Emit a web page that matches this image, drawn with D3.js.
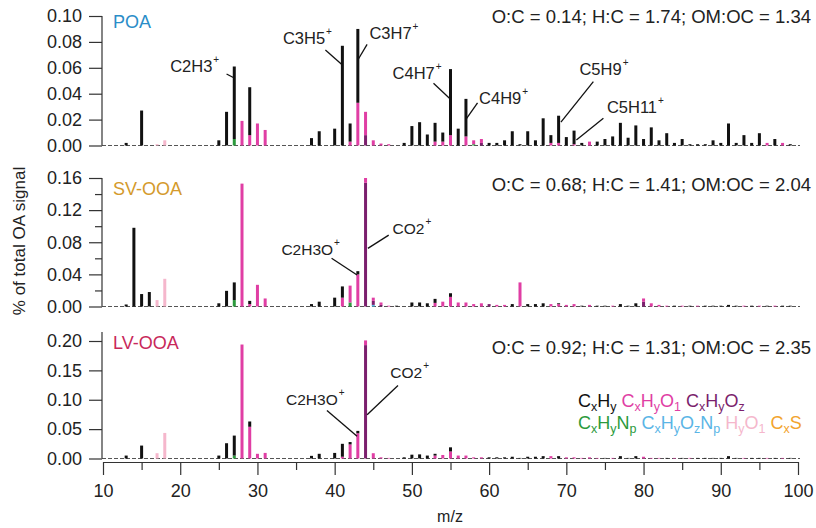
<!DOCTYPE html>
<html>
<head>
<meta charset="utf-8">
<script src="https://cdn.jsdelivr.net/npm/d3@7"></script>
<style>
  body { margin: 0; background: #fff; }
  text { font-family: "Liberation Sans", Arial, sans-serif; fill: #222; }
</style>
</head>
<body>
<div id="chart"></div>
<script>
// ion families, stacking order bottom -> top
const familyKeys = ["Np", "OzNp", "HyO1", "CxS", "Oz", "O1", "CxHy"];
const familyColors = {
  CxHy: "#111111", O1: "#e03ea4", Oz: "#7b1f6d", Np: "#2b9a3c",
  OzNp: "#5ab5e6", HyO1: "#f5b7cc", CxS: "#f2a42d"
};

// factor profiles, % of total OA signal per m/z
const poaSpectrum = [
  {mz: 13, CxHy: .002}, {mz: 15, CxHy: .027}, {mz: 17, HyO1: .001}, {mz: 18, HyO1: .004},
  {mz: 25, CxHy: .004}, {mz: 26, CxHy: .026}, {mz: 27, CxHy: .056, Np: .005},
  {mz: 28, O1: .019}, {mz: 29, CxHy: .037, O1: .008}, {mz: 30, O1: .017}, {mz: 31, O1: .012},
  {mz: 37, CxHy: .0057}, {mz: 38, CxHy: .011}, {mz: 40, CxHy: .013}, {mz: 41, CxHy: .077},
  {mz: 42, CxHy: .014, O1: .003}, {mz: 43, CxHy: .057, O1: .033}, {mz: 44, Oz: .008, O1: .018},
  {mz: 45, O1: .004}, {mz: 46, O1: .0015}, {mz: 47, O1: .001}, {mz: 49, CxHy: .002},
  {mz: 50, CxHy: .015}, {mz: 51, CxHy: .018}, {mz: 52, CxHy: .0085}, {mz: 53, CxHy: .0145, O1: .003},
  {mz: 54, CxHy: .007, O1: .003}, {mz: 55, CxHy: .051, O1: .008}, {mz: 56, CxHy: .013},
  {mz: 57, CxHy: .029, O1: .007}, {mz: 58, O1: .003, Np: .001}, {mz: 59, Oz: .002, O1: .003},
  {mz: 60, CxHy: .002}, {mz: 61, CxHy: .002}, {mz: 62, CxHy: .004}, {mz: 63, CxHy: .011},
  {mz: 64, CxHy: .001}, {mz: 65, CxHy: .011}, {mz: 66, CxHy: .004}, {mz: 67, CxHy: .021},
  {mz: 68, CxHy: .006, O1: .002}, {mz: 69, CxHy: .021, O1: .002}, {mz: 70, CxHy: .0065},
  {mz: 71, CxHy: .0105, O1: .001}, {mz: 72, CxHy: .002}, {mz: 73, O1: .003}, {mz: 74, CxHy: .003},
  {mz: 75, CxHy: .005}, {mz: 76, CxHy: .007}, {mz: 77, CxHy: .0175}, {mz: 78, CxHy: .006},
  {mz: 79, CxHy: .0155}, {mz: 80, CxHy: .005}, {mz: 81, CxHy: .014}, {mz: 82, CxHy: .004},
  {mz: 83, CxHy: .0095}, {mz: 84, CxHy: .002}, {mz: 85, CxHy: .005}, {mz: 86, CxHy: .001},
  {mz: 87, CxHy: .001}, {mz: 88, CxHy: .001}, {mz: 89, CxHy: .004}, {mz: 90, CxHy: .002},
  {mz: 91, CxHy: .017}, {mz: 92, CxHy: .002}, {mz: 93, CxHy: .008}, {mz: 94, CxHy: .002},
  {mz: 95, CxHy: .0095}, {mz: 96, O1: .002}, {mz: 97, CxHy: .005}, {mz: 98, O1: .002},
  {mz: 99, CxHy: .001}
];

const svSpectrum = [
  {mz: 13, CxHy: .0025}, {mz: 14, CxHy: .098}, {mz: 15, CxHy: .0155}, {mz: 16, CxHy: .018},
  {mz: 17, HyO1: .008}, {mz: 18, HyO1: .0345}, {mz: 25, CxHy: .004}, {mz: 26, CxHy: .0195},
  {mz: 27, CxHy: .022, Np: .008}, {mz: 28, O1: .153}, {mz: 29, CxHy: .004, O1: .003},
  {mz: 30, O1: .027}, {mz: 31, O1: .010}, {mz: 37, CxHy: .003}, {mz: 38, CxHy: .006},
  {mz: 40, CxHy: .011}, {mz: 41, CxHy: .014, O1: .011}, {mz: 42, Np: .005, O1: .021},
  {mz: 43, O1: .040, CxHy: .004}, {mz: 44, Oz: .154, O1: .006},
  {mz: 45, OzNp: .002, Oz: .005, O1: .004}, {mz: 46, Oz: .002, O1: .003}, {mz: 47, O1: .001},
  {mz: 48, CxHy: .001}, {mz: 50, CxHy: .005}, {mz: 51, CxHy: .005}, {mz: 52, CxHy: .004},
  {mz: 53, CxHy: .005, O1: .0045}, {mz: 54, O1: .006}, {mz: 55, O1: .012, CxHy: .0045},
  {mz: 56, O1: .005}, {mz: 57, O1: .005}, {mz: 58, O1: .003}, {mz: 59, O1: .004},
  {mz: 60, Oz: .003}, {mz: 61, O1: .002}, {mz: 62, O1: .002}, {mz: 63, CxHy: .003},
  {mz: 64, O1: .030}, {mz: 65, CxHy: .003}, {mz: 66, CxHy: .003}, {mz: 67, CxHy: .004},
  {mz: 68, O1: .003}, {mz: 69, O1: .003, CxHy: .001}, {mz: 70, O1: .002}, {mz: 71, O1: .003},
  {mz: 72, CxHy: .001}, {mz: 73, O1: .002}, {mz: 74, CxHy: .001}, {mz: 75, CxHy: .001},
  {mz: 76, O1: .001}, {mz: 77, CxHy: .003}, {mz: 78, CxHy: .001}, {mz: 79, CxHy: .004},
  {mz: 80, Oz: .006, O1: .004}, {mz: 81, O1: .004}, {mz: 82, O1: .002}, {mz: 83, O1: .001},
  {mz: 84, CxHy: .001}, {mz: 85, O1: .001}, {mz: 86, CxHy: .001}, {mz: 87, O1: .001},
  {mz: 88, CxHy: .001}, {mz: 89, CxHy: .001}, {mz: 90, CxHy: .001}, {mz: 91, CxHy: .002},
  {mz: 92, CxHy: .001}, {mz: 93, O1: .001}, {mz: 94, CxHy: .001}, {mz: 95, O1: .001},
  {mz: 96, CxHy: .001}, {mz: 97, O1: .001}, {mz: 98, CxHy: .001}, {mz: 99, CxHy: .001}
];

const lvSpectrum = [
  {mz: 13, CxHy: .005}, {mz: 15, CxHy: .022}, {mz: 17, HyO1: .009}, {mz: 18, HyO1: .0435},
  {mz: 25, CxHy: .005}, {mz: 26, CxHy: .026}, {mz: 27, CxHy: .034, Np: .005},
  {mz: 28, O1: .194}, {mz: 29, O1: .054, CxHy: .009}, {mz: 30, O1: .008}, {mz: 31, O1: .0095},
  {mz: 37, CxHy: .0045}, {mz: 38, CxHy: .008}, {mz: 40, CxHy: .0095},
  {mz: 41, CxHy: .022, O1: .003}, {mz: 42, O1: .024, CxHy: .004}, {mz: 43, O1: .043, CxHy: .004},
  {mz: 44, Oz: .193, O1: .008}, {mz: 45, O1: .009}, {mz: 46, O1: .002}, {mz: 47, O1: .001},
  {mz: 49, CxHy: .002}, {mz: 50, CxHy: .0065}, {mz: 51, CxHy: .007}, {mz: 52, CxHy: .005},
  {mz: 53, O1: .005, CxHy: .003}, {mz: 54, O1: .006}, {mz: 55, O1: .012, CxHy: .007},
  {mz: 56, O1: .005}, {mz: 57, O1: .005}, {mz: 58, O1: .002}, {mz: 59, O1: .002},
  {mz: 60, CxHy: .002}, {mz: 61, CxHy: .002}, {mz: 62, CxHy: .002}, {mz: 63, CxHy: .003},
  {mz: 64, CxHy: .001}, {mz: 65, CxHy: .003}, {mz: 66, CxHy: .003}, {mz: 67, CxHy: .004},
  {mz: 68, O1: .004}, {mz: 69, CxHy: .004}, {mz: 70, O1: .002}, {mz: 71, O1: .002},
  {mz: 72, O1: .001}, {mz: 73, O1: .002}, {mz: 74, O1: .001}, {mz: 75, CxHy: .001},
  {mz: 76, O1: .001}, {mz: 77, CxHy: .004}, {mz: 78, CxHy: .001}, {mz: 79, CxHy: .004},
  {mz: 80, O1: .003}, {mz: 81, O1: .001}, {mz: 82, O1: .001}, {mz: 83, CxHy: .001},
  {mz: 84, O1: .001}, {mz: 85, CxHy: .001}, {mz: 86, O1: .001}, {mz: 87, CxHy: .001},
  {mz: 88, CxHy: .001}, {mz: 89, CxHy: .001}, {mz: 90, CxHy: .001}, {mz: 91, CxHy: .004},
  {mz: 92, CxHy: .001}, {mz: 93, O1: .001}, {mz: 94, CxHy: .001}, {mz: 95, CxHy: .001},
  {mz: 96, O1: .001}, {mz: 97, CxHy: .001}, {mz: 98, O1: .001}, {mz: 99, CxHy: .001}
];

const factorNames = ["POA", "SV-OOA", "LV-OOA"];
const factorRatios = [
  "O:C = 0.14; H:C = 1.74; OM:OC = 1.34",
  "O:C = 0.68; H:C = 1.41; OM:OC = 2.04",
  "O:C = 0.92; H:C = 1.31; OM:OC = 2.35"
];
const yMajorTicks = [
  [0, .02, .04, .06, .08, .10],
  [0, .04, .08, .12, .16],
  [0, .05, .10, .15, .20]
];
const yMinorTicks = [[], [.02, .06, .10, .14], []];
const xMajorTicks = [10, 20, 30, 40, 50, 60, 70, 80, 90, 100];
const xMinorTicks = [15, 25, 35, 45, 55, 65, 75, 85, 95];

// ion labels: [text, text m/z, text value, leader start m/z, value, leader end m/z, value]
const ionLabels = [
  [["C2H3", 18.7, .0571, 26.0, .0552, 27.0, .0521],
   ["C3H5", 33.3, .0784, 38.8, .0737, 41.0, .0622],
   ["C3H7", 44.5, .0822, 44.2, .0781, 43.0, .066],
   ["C4H7", 47.5, .0514, 52.8, .048, 55.0, .0357],
   ["C4H9", 58.7, .032, 58.5, .033, 57.0, .0202],
   ["C5H9", 71.7, .0544, 73.5, .0493, 69.3, .018],
   ["C5H11", 75.25, .0251, 74.8, .021, 71.3, .0042]],
  [["C2H3O", 33.1, .0647, 39.6, .060, 42.9, .0392],
   ["CO2", 47.5, .0908, 47.0, .0889, 44.3, .0724]],
  [["C2H3O", 33.7, .0915, 39.0, .0819, 42.9, .0378],
   ["CO2", 47.2, .1364, 48.2, .1242, 44.2, .0746]]
];
const ionFontSize = [16.5, 15.5, 15.5];

// legend: family key and its formula split into [symbol, subscript] pairs
const legendRows = [
  [["CxHy", [["C", "x"], ["H", "y"]]], ["O1", [["C", "x"], ["H", "y"], ["O", "1"]]],
   ["Oz", [["C", "x"], ["H", "y"], ["O", "z"]]]],
  [["Np", [["C", "x"], ["H", "y"], ["N", "p"]]], ["OzNp", [["C", "x"], ["H", "y"], ["O", "z"], ["N", "p"]]],
   ["HyO1", [["H", "y"], ["O", "1"]]], ["CxS", [["C", "x"], ["S", ""]]]]
];

const width = 816, height = 528;
const panelBox = [
  {top: 16, bottom: 145.5, axisTop: 16, nameY: 28, ratioY: 23},
  {top: 178, bottom: 306.5, axisTop: 178, nameY: 195, ratioY: 191},
  {top: 341, bottom: 458.5, axisTop: 332, nameY: 349, ratioY: 354}
];
const nameColors = ["#2a8dc8", "#d49a2c", "#c8285a"];
const spectra = [poaSpectrum, svSpectrum, lvSpectrum];

const svg = d3.select("#chart").append("svg")
  .attr("width", width).attr("height", height);

const x = d3.scaleLinear().domain([10, 100]).range([103, 798]);
const stack = d3.stack().keys(familyKeys).value((d, k) => d[k] || 0);

factorNames.forEach((name, i) => {
  const box = panelBox[i];
  const ticks = yMajorTicks[i];
  const y = d3.scaleLinear().domain([0, ticks[ticks.length - 1]]).range([box.bottom, box.top]);
  const g = svg.append("g");

  // zero line
  g.append("line")
    .attr("x1", 102).attr("x2", 800).attr("y1", y(0)).attr("y2", y(0))
    .attr("stroke", "#555").attr("stroke-width", 1).attr("stroke-dasharray", "4,2");

  const series = stack(spectra[i]);
  g.selectAll("g.series").data(series).enter().append("g")
    .attr("fill", s => familyColors[s.key])
    .selectAll("rect").data(s => s.filter(d => d[1] > d[0])).enter().append("rect")
    .attr("x", d => x(d.data.mz) - 1.5)
    .attr("width", 3)
    .attr("y", d => y(d[1]))
    .attr("height", d => y(d[0]) - y(d[1]));

  // y axis
  const ax = g.append("g").attr("transform", "translate(102,0)")
    .call(d3.axisLeft(y).tickValues(ticks).tickSize(13).tickSizeOuter(0).tickPadding(7)
      .tickFormat(d3.format(".2f")));
  ax.select(".domain").remove();
  ax.selectAll("text").attr("font-size", 18).attr("font-family", "Liberation Sans, Arial, sans-serif").attr("fill", "#222");
  if (yMinorTicks[i].length) {
    const mn = g.append("g").attr("transform", "translate(102,0)")
      .call(d3.axisLeft(y).tickValues(yMinorTicks[i]).tickSize(7).tickSizeOuter(0).tickFormat(""));
    mn.select(".domain").remove();
  }
  g.selectAll(".tick line").attr("stroke", "#333").attr("stroke-width", 1.2);
  g.append("line").attr("x1", 102).attr("x2", 102).attr("y1", box.axisTop).attr("y2", y(0))
    .attr("stroke", "#333").attr("stroke-width", 1.2);

  g.append("text").attr("x", 113).attr("y", box.nameY).attr("font-size", 18)
    .style("fill", nameColors[i]).text(name);
  g.append("text").attr("x", 811).attr("y", box.ratioY).attr("font-size", 18.5)
    .attr("text-anchor", "end").text(factorRatios[i]);

  // ion labels with leader lines
  ionLabels[i].forEach(([t, tx, ty, x1, y1, x2, y2]) => {
    const lab = g.append("text").attr("x", x(tx)).attr("y", y(ty)).attr("font-size", ionFontSize[i]);
    lab.append("tspan").text(t);
    lab.append("tspan").attr("font-size", 10).attr("dy", -9).attr("dx", 1).text("+");
    g.append("line").attr("x1", x(x1)).attr("y1", y(y1)).attr("x2", x(x2)).attr("y2", y(y2))
      .attr("stroke", "#111").attr("stroke-width", 1.3);
  });
});

// x axis
const xa = svg.append("g").attr("transform", "translate(0,462)")
  .call(d3.axisBottom(x).tickValues(xMajorTicks).tickSize(13).tickSizeOuter(0).tickPadding(9));
xa.selectAll("text").attr("font-size", 18).attr("font-family", "Liberation Sans, Arial, sans-serif").attr("fill", "#222");
svg.append("g").attr("transform", "translate(0,462)")
  .call(d3.axisBottom(x).tickValues(xMinorTicks).tickSize(8).tickFormat(""))
  .select(".domain").remove();
svg.selectAll(".domain").attr("stroke", "#333").attr("stroke-width", 1.2);
svg.selectAll(".tick line").attr("stroke", "#333").attr("stroke-width", 1.2);

svg.append("text").attr("x", 450).attr("y", 522).attr("font-size", 16)
  .attr("text-anchor", "middle").text("m/z");
svg.append("text").attr("transform", "translate(25,241) rotate(-90)").attr("font-size", 17)
  .attr("text-anchor", "middle").text("% of total OA signal");

// legend of ion families
const legendY = [407, 429];
legendRows.forEach((row, r) => {
  const base = legendY[r];
  const t = svg.append("text").attr("x", 578).attr("y", base).attr("font-size", 18);
  row.forEach(([key, pairs], k) => {
    const col = familyColors[key];
    if (k > 0) t.append("tspan").attr("y", base).text(" ");
    pairs.forEach(([sym, sub]) => {
      t.append("tspan").attr("y", base).style("fill", col).text(sym);
      if (sub) t.append("tspan").attr("y", base + 4).attr("font-size", 12.5).style("fill", col).text(sub);
    });
  });
});
</script>
</body>
</html>
